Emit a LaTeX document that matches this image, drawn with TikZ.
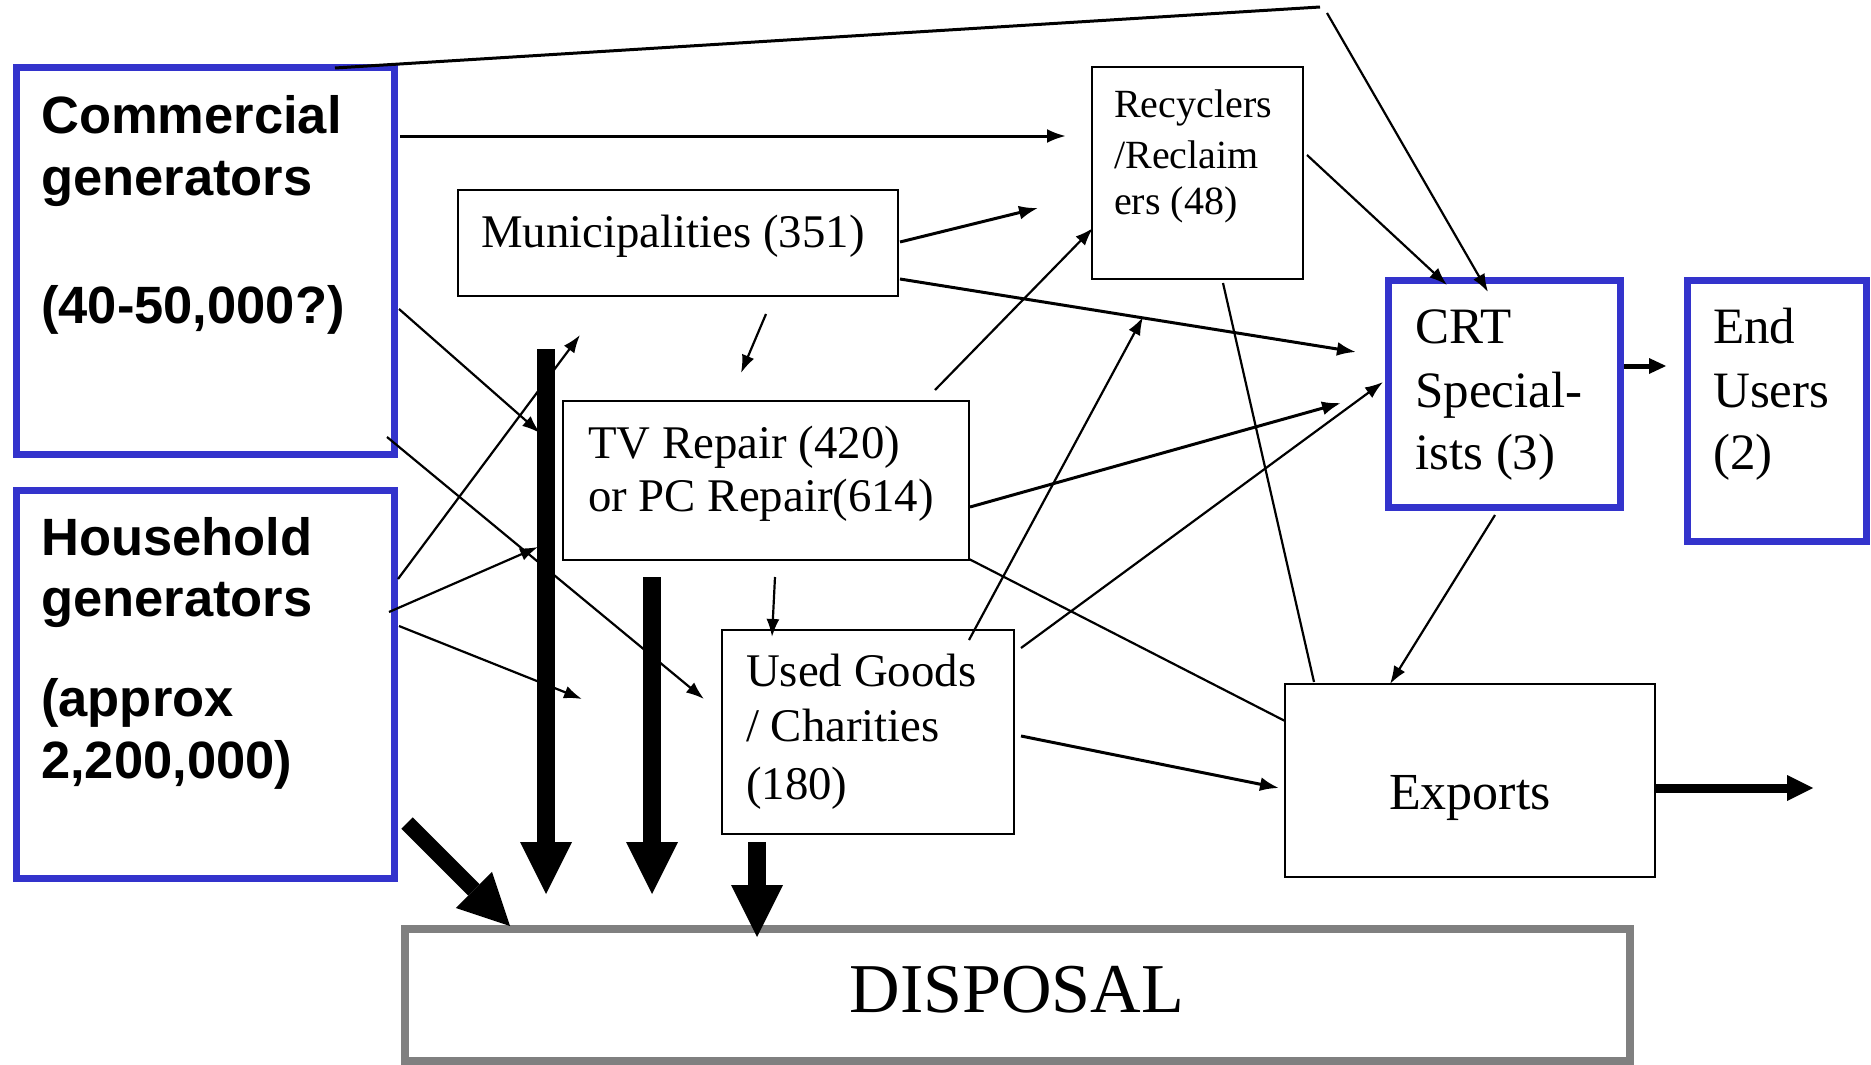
\documentclass[tikz,border=0pt]{standalone}
\usepackage{fontspec}
\setmainfont{Liberation Serif}
\newfontfamily\headsans{Liberation Sans}
\usetikzlibrary{arrows.meta}
\definecolor{boxblue}{RGB}{51,51,204}
\definecolor{framegray}{RGB}{128,128,128}

\begin{document}
\begin{tikzpicture}[x=1pt,y=-1pt,
  bluebox/.style={draw=boxblue,line width=7pt,inner sep=0pt,outer sep=0pt,anchor=north west},
  plainbox/.style={draw=black,line width=2.8pt,inner sep=0pt,outer sep=0pt,anchor=north west},
  graybox/.style={draw=framegray,line width=8pt,inner sep=0pt,outer sep=0pt,anchor=north west},
  lbl/.style={inner sep=0pt,anchor=base west},
  gentext/.style={lbl,font=\headsans\bfseries\fontsize{52.5}{62}\selectfont},
  serifL/.style={lbl,font=\fontsize{51}{61}\selectfont},
  serifM/.style={lbl,font=\fontsize{46.8}{56}\selectfont},
  serifS/.style={lbl,font=\fontsize{40}{48}\selectfont},
  flow/.style={line width=2.2pt,-{Latex[length=18pt,width=13pt]}},
  flowbold/.style={line width=3pt,-{Latex[length=19pt,width=14pt]}},
  plainline/.style={line width=2.2pt},
  shortbold/.style={line width=5pt,-{Triangle[length=17pt,width=16pt,line width=0pt]}},
  exportarrow/.style={line width=9pt,-{Triangle[length=26pt,width=26pt,line width=0pt]}},
  heavy/.style={line width=18pt,-{Triangle[length=52pt,width=52pt,line width=0pt]}},
  heavydiag/.style={line width=16pt,-{Triangle[length=51pt,width=51pt,line width=0pt]}}
]
\useasboundingbox (0,0) rectangle (1871,1065);

% ---- boxes ----
\node[bluebox,minimum width=378pt,minimum height=386pt] (com) at (16,68) {};
\node[bluebox,minimum width=378pt,minimum height=388pt] (hh) at (16,490) {};
\node[plainbox,minimum width=440pt,minimum height=106pt] (mun) at (458,190) {};
\node[plainbox,minimum width=211pt,minimum height=212pt] (rec) at (1092,67) {};
\node[bluebox,minimum width=232pt,minimum height=227pt] (crt) at (1388,280) {};
\node[bluebox,minimum width=179pt,minimum height=261pt] (endu) at (1687,280) {};
\node[plainbox,minimum width=406pt,minimum height=159pt] (tv) at (563,401) {};
\node[plainbox,minimum width=292pt,minimum height=204pt] (ug) at (722,630) {};
\node[plainbox,minimum width=370pt,minimum height=193pt] (exp) at (1285,684) {};
\node[graybox,minimum width=1225pt,minimum height=132pt] (disp) at (405,929) {};

% ---- box texts ----
\node[gentext] (comA) at (41,133) {Commercial};
\node[gentext] (comB) at (41,195) {generators};
\node[gentext] (comC) at (41,323) {(40-50,000?)};
\node[gentext] (hhA) at (41,555) {Household};
\node[gentext] (hhB) at (41,616) {generators};
\node[gentext] (hhC) at (41,716) {(approx};
\node[gentext] (hhD) at (41,778) {2,200,000)};
\node[serifM] (munA) at (481,247) {Municipalities (351)};
\node[serifS] (recA) at (1114,117) {Recyclers};
\node[serifS] (recB) at (1114,168) {/Reclaim};
\node[serifS] (recC) at (1114,214) {ers (48)};
\node[serifL] (crtA) at (1415,343) {CRT};
\node[serifL] (crtB) at (1415,407) {Special-};
\node[serifL] (crtC) at (1415,469) {ists (3)};
\node[serifL] (endA) at (1713,343) {End};
\node[serifL] (endB) at (1713,407) {Users};
\node[serifL] (endC) at (1713,469) {(2)};
\node[serifM] (tvA) at (588,458) {TV Repair (420)};
\node[serifM] (tvB) at (588,511) {or PC Repair(614)};
\node[serifM] (ugA) at (746,686) {Used Goods};
\node[serifM] (ugB) at (746,741) {/ Charities};
\node[serifM] (ugC) at (746,799) {(180)};
\node[inner sep=0pt,anchor=base,font=\fontsize{52}{62}\selectfont] (expA) at (1470,809) {Exports};
\node[inner sep=0pt,anchor=base,font=\fontsize{70}{84}\selectfont] (dispA) at (1017,1012) {DISPOSAL};

% ---- connector end points ----
\coordinate (topS) at (335,68);
\coordinate (topK) at (1320,7);
\coordinate (topR) at (1327,13);
\coordinate (crtTopB) at (1488,292);
\coordinate (comR1) at (400,136);
\coordinate (recL1) at (1066,136);
\coordinate (munR1) at (900,242);
\coordinate (recL2) at (1038,208);
\coordinate (munR2) at (900,279);
\coordinate (crtL1) at (1356,352);
\coordinate (munB) at (766,314);
\coordinate (tvT) at (741,373);
\coordinate (recR) at (1307,155);
\coordinate (crtTopA) at (1447,285);
\coordinate (recB) at (1223,283);
\coordinate (expT1) at (1314,682);
\coordinate (crtR) at (1624,366);
\coordinate (endL) at (1666,366);
\coordinate (crtB) at (1495,515);
\coordinate (expT2) at (1390,684);
\coordinate (tvTR) at (935,390);
\coordinate (recL3) at (1093,228);
\coordinate (tvR) at (970,507);
\coordinate (crtL2) at (1341,403);
\coordinate (tvBR) at (969,559);
\coordinate (expL1) at (1285,721);
\coordinate (tvB) at (775,577);
\coordinate (ugT) at (772,637);
\coordinate (ugTR) at (969,640);
\coordinate (recBelow) at (1143,317);
\coordinate (ugR1) at (1021,648);
\coordinate (crtL3) at (1383,382);
\coordinate (ugR2) at (1021,736);
\coordinate (expL2) at (1279,788);
\coordinate (expR) at (1655,788);
\coordinate (expOut) at (1813,788);
\coordinate (comR2) at (399,309);
\coordinate (tvL1) at (540,433);
\coordinate (comR3) at (387,437);
\coordinate (ugL) at (704,699);
\coordinate (hhR1) at (398,579);
\coordinate (munBL) at (580,335);
\coordinate (hhR2) at (389,612);
\coordinate (tvL2) at (538,547);
\coordinate (hhR3) at (399,626);
\coordinate (ugL2) at (582,699);
\coordinate (hhBR) at (407,823);
\coordinate (dispT1) at (510,926);
\coordinate (barAtop) at (546,349);
\coordinate (barAend) at (546,894);
\coordinate (barBtop) at (652,577);
\coordinate (barBend) at (652,894);
\coordinate (ugB) at (757,842);
\coordinate (dispT2) at (757,937);

% ---- thin connectors ----
\draw[line width=3pt] (topS) -- (topK);
\draw[flow] (topR) -- (crtTopB);
\draw[flowbold] (comR1) -- (recL1);
\draw[flowbold] (munR1) -- (recL2);
\draw[flowbold] (munR2) -- (crtL1);
\draw[flow] (munB) -- (tvT);
\draw[flow] (recR) -- (crtTopA);
\draw[plainline] (recB) -- (expT1);
\draw[shortbold] (crtR) -- (endL);
\draw[flow] (crtB) -- (expT2);
\draw[flow] (tvTR) -- (recL3);
\draw[flowbold] (tvR) -- (crtL2);
\draw[plainline] (tvBR) -- (expL1);
\draw[flow] (tvB) -- (ugT);
\draw[flow] (ugTR) -- (recBelow);
\draw[flow] (ugR1) -- (crtL3);
\draw[flowbold] (ugR2) -- (expL2);
\draw[flow] (comR2) -- (tvL1);
\draw[flow] (comR3) -- (ugL);
\draw[flow] (hhR1) -- (munBL);
\draw[flow] (hhR2) -- (tvL2);
\draw[flow] (hhR3) -- (ugL2);
\draw[exportarrow] (expR) -- (expOut);

% ---- heavy flows to disposal ----
\draw[heavydiag] (hhBR) -- (dispT1);
\draw[heavy] (barAtop) -- (barAend);
\draw[heavy] (barBtop) -- (barBend);
\draw[heavy] (ugB) -- (dispT2);
\end{tikzpicture}
\end{document}
